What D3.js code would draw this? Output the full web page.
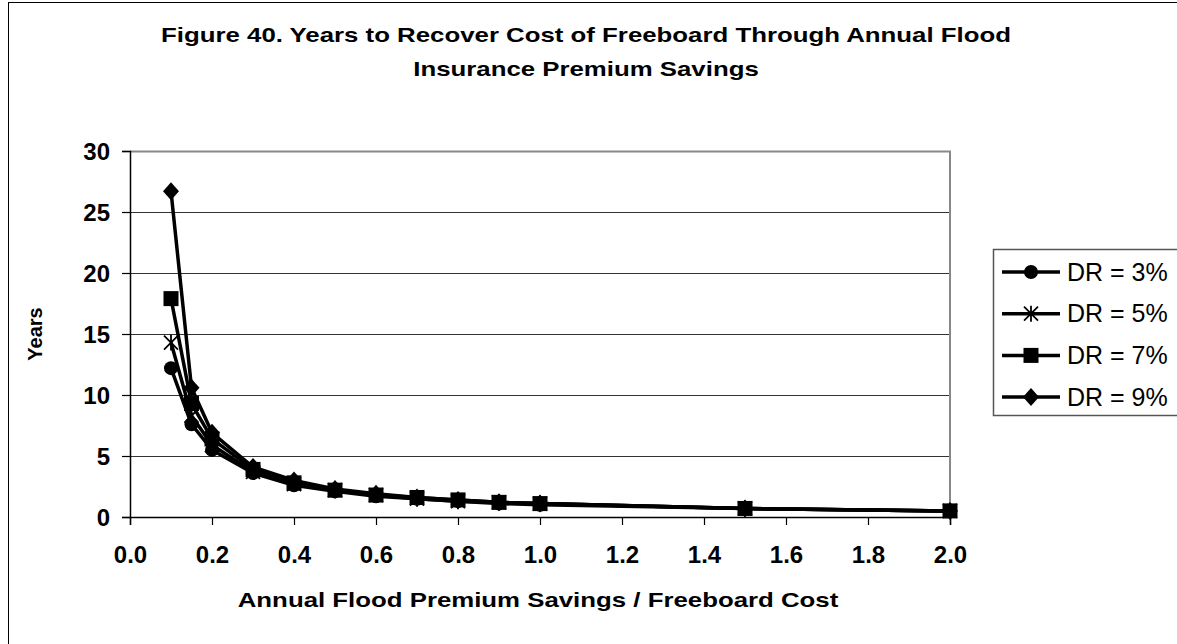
<!DOCTYPE html>
<html><head><meta charset="utf-8">
<script src="https://cdn.jsdelivr.net/npm/d3@7"></script>
<style>
body{margin:0;background:#fff;}
svg{display:block;font-family:"Liberation Sans",Arial,sans-serif;}
</style></head>
<body>
<svg id="chart" width="1177" height="644"></svg>
<script>
const xValues = [0.1, 0.15, 0.2, 0.3, 0.4, 0.5, 0.6, 0.7, 0.8, 0.9, 1.0, 1.5, 2.0];
const dr3 = [12.2, 7.6, 5.5, 3.6, 2.6, 2.1, 1.7, 1.5, 1.3, 1.1, 1.0, 0.7, 0.5];
const dr5 = [14.3, 8.3, 5.9, 3.7, 2.7, 2.2, 1.8, 1.5, 1.3, 1.2, 1.1, 0.7, 0.5];
const dr7 = [17.9, 9.3, 6.4, 3.9, 2.8, 2.2, 1.8, 1.6, 1.4, 1.2, 1.1, 0.7, 0.5];
const dr9 = [26.7, 10.6, 6.9, 4.1, 3.0, 2.3, 1.9, 1.6, 1.4, 1.2, 1.1, 0.7, 0.5];
const seriesNames = ["DR = 3%", "DR = 5%", "DR = 7%", "DR = 9%"];
const seriesMarkers = ["circle", "star", "square", "diamond"];
const xTicks = [0.0, 0.2, 0.4, 0.6, 0.8, 1.0, 1.2, 1.4, 1.6, 1.8, 2.0];
const yTicks = [0, 5, 10, 15, 20, 25, 30];
const titleLines = ["Figure 40. Years to Recover Cost of Freeboard Through Annual Flood", "Insurance Premium Savings"];
const xTitle = "Annual Flood Premium Savings / Freeboard Cost";
const yTitle = "Years";

const series = [dr3, dr5, dr7, dr9].map((vals, i) => ({
  name: seriesNames[i], marker: seriesMarkers[i],
  pts: vals.map((v, j) => ({x: xValues[j], y: v}))
}));

const svg = d3.select("#chart");
const plot = {l: 130, r: 950, t: 151, b: 517};
const x = d3.scaleLinear().domain([0, 2]).range([plot.l, plot.r]);
const y = d3.scaleLinear().domain([0, 30]).range([plot.b, plot.t]);
const hStretch = 1.29;

// outer chart frame
svg.append("rect").attr("x", 8.5).attr("y", 2.5).attr("width", 1200).attr("height", 700)
  .attr("fill", "#fff").attr("stroke", "#000").attr("stroke-width", 1);

// title (horizontally widened bold text, as in the source)
titleLines.forEach((t, i) => {
  svg.append("g").attr("transform", `translate(586,${42 + i * 34}) scale(${hStretch},1)`)
    .append("text").attr("text-anchor", "middle")
    .attr("font-weight", "bold").attr("font-size", 20).attr("fill", "#000").text(t);
});

// gridlines
svg.append("g").selectAll("line").data(yTicks.filter(d => d > 0 && d < 30)).join("line")
  .attr("x1", plot.l).attr("x2", plot.r)
  .attr("y1", d => Math.round(y(d)) + 0.5).attr("y2", d => Math.round(y(d)) + 0.5)
  .attr("stroke", "#333").attr("stroke-width", 1);

// plot border top/right
svg.append("path")
  .attr("d", `M${plot.l},${plot.t + 0.5}H${plot.r}V${plot.b}`)
  .attr("fill", "none").attr("stroke", "#888").attr("stroke-width", 2);

// axes
const xAxis = d3.axisBottom(x).tickValues(xTicks).tickFormat(d3.format(".1f")).tickSize(8).tickPadding(21);
const gx = svg.append("g").attr("transform", `translate(0,${plot.b})`).call(xAxis);
const yAxis = d3.axisLeft(y).tickValues(yTicks).tickFormat(d3.format("d")).tickSize(8).tickPadding(12);
const gy = svg.append("g").attr("transform", `translate(${plot.l},0)`).call(yAxis);
[gx, gy].forEach(g => {
  g.select(".domain").attr("stroke", "#000").attr("stroke-width", 1.5);
  g.selectAll(".tick line").attr("stroke", "#000").attr("stroke-width", 1.2);
  g.selectAll(".tick text").attr("fill", "#000").attr("font-size", 24).attr("font-weight", "bold")
    .attr("font-family", "Liberation Sans, Arial, sans-serif");
});
gy.selectAll(".tick text").attr("dy", "0.35em");

// axis titles
svg.append("g").attr("transform", `translate(${(plot.l + plot.r) / 2 - 2},607) scale(${hStretch},1)`)
  .append("text").attr("text-anchor", "middle").attr("font-weight", "bold").attr("font-size", 20).text(xTitle);
svg.append("text").attr("transform", `translate(42,${(plot.t + plot.b) / 2}) rotate(-90)`)
  .attr("text-anchor", "middle").attr("font-weight", "bold").attr("font-size", 20).text(yTitle);

// markers
function drawMarker(g, type, cx, cy) {
  if (type === "circle") {
    g.append("circle").attr("cx", cx).attr("cy", cy).attr("r", 7).attr("fill", "#000");
  } else if (type === "square") {
    g.append("rect").attr("x", cx - 7.5).attr("y", cy - 7.5).attr("width", 15).attr("height", 15).attr("fill", "#000");
  } else if (type === "diamond") {
    g.append("path").attr("d", `M${cx},${cy - 9}L${cx + 8},${cy}L${cx},${cy + 9}L${cx - 8},${cy}Z`).attr("fill", "#000");
  } else if (type === "star") {
    const s = 7;
    g.append("path").attr("d", `M${cx - s},${cy - s}L${cx + s},${cy + s}M${cx - s},${cy + s}L${cx + s},${cy - s}M${cx},${cy - s - 1}L${cx},${cy + s + 1}`)
      .attr("stroke", "#000").attr("stroke-width", 1.8).attr("fill", "none");
  }
}

const line = d3.line().x(d => x(d.x)).y(d => y(d.y));
const gl = svg.append("g");
series.forEach(s => {
  gl.append("path").attr("d", line(s.pts)).attr("fill", "none")
    .attr("stroke", "#000").attr("stroke-width", 3.5).attr("stroke-linejoin", "round");
});
const gm = svg.append("g");
[0, 1, 3, 2].forEach(i => {
  const s = series[i];
  s.pts.forEach(p => drawMarker(gm, s.marker, x(p.x), y(p.y)));
});

// legend
const leg = svg.append("g");
leg.append("rect").attr("x", 993.5).attr("y", 249.5).attr("width", 220).attr("height", 166)
  .attr("fill", "#fff").attr("stroke", "#555").attr("stroke-width", 1.5);
series.forEach((s, i) => {
  const cy = 272 + i * 41.7;
  leg.append("line").attr("x1", 1002).attr("x2", 1060).attr("y1", cy).attr("y2", cy)
    .attr("stroke", "#000").attr("stroke-width", 3.5);
  drawMarker(leg, s.marker, 1031, cy);
  leg.append("text").attr("x", 1067).attr("y", cy).attr("dy", "0.35em")
    .attr("font-size", 25).attr("fill", "#000").text(s.name);
});
</script>
</body></html>
